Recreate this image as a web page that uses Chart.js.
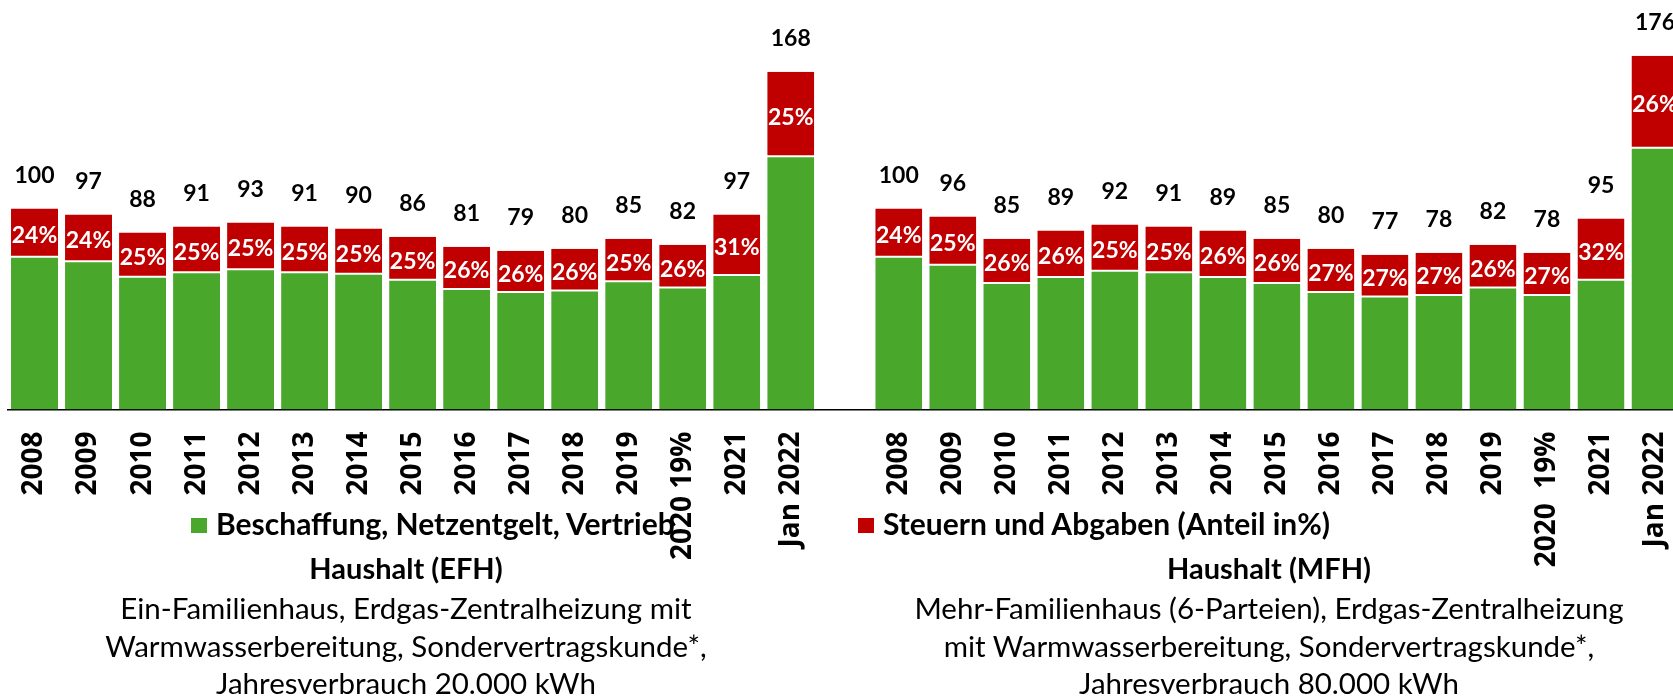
<!DOCTYPE html>
<html>
<head>
<meta charset="utf-8">
<script src="https://cdn.jsdelivr.net/npm/chart.js@4.4.1/dist/chart.umd.min.js"></script>
<style>
  html, body { margin: 0; padding: 0; background: #fff; overflow: hidden; }
  #wrap { position: relative; width: 1682px; height: 697px; }
  #c { position: absolute; left: 0; top: 0; }
  .t { position: absolute; white-space: pre; font-family: Lato, sans-serif; color: #000; line-height: 1; }
  .cap { font-size: 29.5px; font-weight: 400; text-align: center; }
  .leg { font-size: 30px; font-weight: 700; }
  .hh { font-size: 29px; font-weight: 700; text-align: center; }
  .sq { position: absolute; width: 16px; height: 15px; }
</style>
</head>
<body>
<div id="wrap">
  <canvas id="c" width="1682" height="697" style="width:1682px;height:697px"></canvas>

  <div class="sq" style="left:191px;top:518px;background:#49A82B"></div>
  <div class="t leg" style="left:216px;top:507.5px">Beschaffung, Netzentgelt, Vertrieb</div>
  <div class="sq" style="left:858px;top:518px;background:#C00000"></div>
  <div class="t leg" style="left:883px;top:507.5px">Steuern und Abgaben (Anteil in%)</div>

  <div class="t hh" style="left:0;width:812px;top:552.8px">Haushalt (EFH)</div>
  <div class="t cap" style="left:0;width:812px;top:593.3px">Ein-Familienhaus, Erdgas-Zentralheizung mit</div>
  <div class="t cap" style="left:0;width:812px;top:630.5px">Warmwasserbereitung, Sondervertragskunde*,</div>
  <div class="t cap" style="left:0;width:812px;top:668.3px">Jahresverbrauch 20.000 kWh</div>

  <div class="t hh" style="left:869px;width:800px;top:552.8px">Haushalt (MFH)</div>
  <div class="t cap" style="left:869px;width:800px;top:593.3px">Mehr-Familienhaus (6-Parteien), Erdgas-Zentralheizung</div>
  <div class="t cap" style="left:869px;width:800px;top:630.5px">mit Warmwasserbereitung, Sondervertragskunde*,</div>
  <div class="t cap" style="left:869px;width:800px;top:668.3px">Jahresverbrauch 80.000 kWh</div>
</div>
<script>
// ---- data ----
const categoriesEFH = ['2008','2009','2010','2011','2012','2013','2014','2015','2016','2017','2018','2019','2020 19%','2021','Jan 2022'];
const totalsEFH = [100, 97, 88, 91, 93, 91, 90, 86, 81, 79, 80, 85, 82, 97, 168];
const sharesEFH = [24, 24, 25, 25, 25, 25, 25, 25, 26, 26, 26, 25, 26, 31, 25];

const categoriesMFH = ['2008','2009','2010','2011','2012','2013','2014','2015','2016','2017','2018','2019','2020  19%','2021','Jan 2022'];
const totalsMFH = [100, 96, 85, 89, 92, 91, 89, 85, 80, 77, 78, 82, 78, 95, 176];
const sharesMFH = [24, 25, 26, 26, 25, 25, 26, 26, 27, 27, 27, 26, 27, 32, 26];

const seriesNames = ['Beschaffung, Netzentgelt, Vertrieb', 'Steuern und Abgaben (Anteil in%)'];

// ---- derived ----
const labelsAll = [...categoriesEFH, '', ...categoriesMFH];
const totalsAll = [...totalsEFH, null, ...totalsMFH];
const sharesAll = [...sharesEFH, null, ...sharesMFH];
const greenAll = totalsAll.map((t, i) => t == null ? null : t * (100 - sharesAll[i]) / 100);
const redAll = totalsAll.map((t, i) => t == null ? null : t * sharesAll[i] / 100);

const GREEN = '#49A82B';
const RED = '#C00000';

const labelPlugin = {
  id: 'barLabels',
  afterDatasetsDraw(chart) {
    const ctx = chart.ctx;
    const meta = chart.getDatasetMeta(1);
    meta.data.forEach((bar, i) => {
      if (totalsAll[i] == null) return;
      ctx.save();
      ctx.font = 'bold 23px Lato';
      ctx.textAlign = 'center';
      ctx.textBaseline = 'alphabetic';
      ctx.fillStyle = '#ffffff';
      ctx.fillText(sharesAll[i] + '%', bar.x, (bar.y + bar.base) / 2 + 10.5);
      ctx.fillStyle = '#000000';
      ctx.fillText(String(totalsAll[i]), bar.x, bar.y - 25.5);
      ctx.restore();
    });
  }
};

new Chart(document.getElementById('c'), {
  type: 'bar',
  data: {
    labels: labelsAll,
    datasets: [
      {
        label: seriesNames[0],
        data: greenAll,
        backgroundColor: GREEN,
        borderColor: '#ffffff',
        borderWidth: { top: 1, left: 0, right: 0, bottom: 0 },
        borderSkipped: false,
        barPercentage: 0.87,
        categoryPercentage: 1.0
      },
      {
        label: seriesNames[1],
        data: redAll,
        backgroundColor: RED,
        borderColor: '#ffffff',
        borderWidth: { top: 0, left: 0, right: 0, bottom: 1 },
        borderSkipped: false,
        barPercentage: 0.87,
        categoryPercentage: 1.0
      }
    ]
  },
  options: {
    responsive: false,
    maintainAspectRatio: false,
    animation: false,
    devicePixelRatio: 1,
    layout: { padding: { left: 7.5, top: 7.5, right: 0, bottom: 0 } },
    plugins: { legend: { display: false }, tooltip: { enabled: false } },
    scales: {
      x: {
        stacked: true,
        grid: { display: false, drawTicks: false },
        border: { display: true, color: '#000000', width: 1.5 },
        ticks: {
          autoSkip: false,
          minRotation: 90,
          maxRotation: 90,
          padding: 22,
          color: '#000000',
          font: { family: 'Open Sans', weight: 'bold', size: 28 }
        },
        afterFit(scale) {
          scale.height = 287.5;
          scale.paddingLeft = 0;
          scale.paddingRight = 0;
        }
      },
      y: {
        stacked: true,
        display: false,
        min: 0,
        max: 200
      }
    }
  },
  plugins: [labelPlugin]
});
</script>
</body>
</html>
